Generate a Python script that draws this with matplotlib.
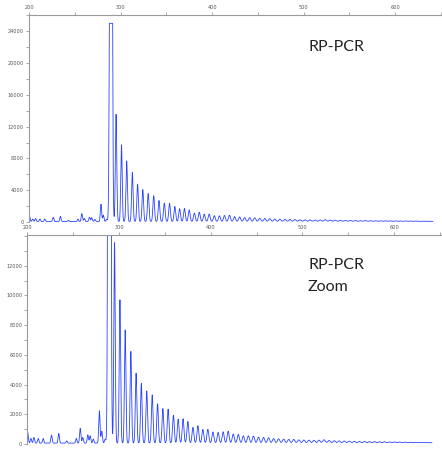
import numpy as np
import matplotlib
matplotlib.use("Agg")
import matplotlib.pyplot as plt
from matplotlib.ticker import MultipleLocator

# peak positions (size units) and heights (RFU)
small_pos = [200.4, 204.0, 207.2, 211.9, 217.3, 226.4, 234.3, 243.0, 253.4,
             257.7, 260.5, 266.0, 268.5, 272.0, 278.6, 281.2, 284.8]
small_h = [720, 310, 380, 310, 310, 540, 650, 150, 310,
           990, 380, 560, 490, 270, 2180, 800, 270]

repeat_pos = [289.5, 295.1, 301.0, 306.7, 312.9, 318.6, 324.3, 330.2, 336.2,
              342.0, 347.8, 353.5, 359.3, 364.5, 369.8, 375.0, 380.6, 386.0,
              391.4, 396.8, 402.4, 408.0, 413.5, 419.0, 424.5, 430.0, 435.5,
              441.0, 446.5, 452.0, 457.5, 463.0, 468.5, 474.0, 479.5, 485.0,
              490.5, 496.0, 501.5, 507.0, 512.5, 518.0, 523.5, 529.0, 534.5,
              540.0, 545.5, 551.0, 556.5, 562.0, 567.5, 573.0, 578.5, 584.0,
              589.5, 595.0, 600.5, 606.0, 611.5, 617.0, 622.5, 628.0, 633.5,
              639.0]
repeat_h = [150000, 13500, 9650, 7630, 6170, 4710, 4020, 3520, 3250,
            2650, 2330, 2290, 1890, 1620, 1640, 1460, 1060, 1170,
            920, 930, 740, 720, 760, 800, 610, 580, 490,
            490, 470, 400, 380, 360, 310, 290, 270, 250,
            250, 220, 210, 200, 190, 200, 230, 180, 160,
            150, 140, 130, 120, 110, 110, 100, 100, 90,
            90, 80, 80, 70, 70, 60, 60, 50, 50,
            40]

baseline = 60
saturation = 25000
trace_start, trace_end = 200, 641

x_ticks = [200, 300, 400, 500, 600]
top_yticks = [0, 4000, 8000, 12000, 16000, 20000, 24000]
zoom_yticks = [0, 2000, 4000, 6000, 8000, 10000, 12000]

LINE = '#2a44ff'
GREY = '#9a9a9a'
LABEL = '#555555'


def build_trace():
    x = np.linspace(trace_start, trace_end, 6000)
    y = np.full_like(x, baseline, dtype=float)
    for p, h in zip(small_pos, small_h):
        y += h * np.exp(-(x - p) ** 2 / (2 * 0.7 ** 2))
    for i, (p, h) in enumerate(zip(repeat_pos, repeat_h)):
        # peaks broaden along the run
        s = 1.0 if i == 0 else 0.75 + 0.9 * (p - 290) / 350
        y += h * np.exp(-(x - p) ** 2 / (2 * s ** 2))
    return x, np.minimum(y, saturation)


def style_axis(ax, yticks):
    for side in ['right', 'bottom']:
        ax.spines[side].set_visible(False)
    for side in ['left', 'top']:
        ax.spines[side].set_color(GREY)
        ax.spines[side].set_linewidth(0.8)
    ax.set_xticks(x_ticks)
    ax.xaxis.set_minor_locator(MultipleLocator(50))
    ax.set_yticks(yticks)
    ax.yaxis.set_minor_locator(MultipleLocator(yticks[1] / 2))
    ax.tick_params(axis='x', which='both', top=True, bottom=False,
                   labeltop=True, labelbottom=False, direction='out',
                   length=2, width=0.6, color=GREY, labelsize=3.6,
                   labelcolor=LABEL, pad=1.5)
    ax.tick_params(axis='y', which='both', direction='out', length=2.2,
                   width=0.6, color=GREY, labelsize=3.6, labelcolor=LABEL,
                   pad=1.5)
    ax.patch.set_alpha(0)


x, y = build_trace()

fig = plt.figure(figsize=(4.42, 4.51), dpi=100)
W, H = 442, 451

ax1 = fig.add_axes([29 / W, 1 - 222 / H, 412 / W, 207 / H])
ax1.plot(x, y, color=LINE, lw=0.6)
ax1.set_xlim(200, 650)
ax1.set_ylim(0, 26050)
style_axis(ax1, top_yticks)

ax2 = fig.add_axes([27.3 / W, 1 - 444 / H, 413.7 / W, 209 / H])
ax2.plot(x, y, color=LINE, lw=0.6)
ax2.set_xlim(200, 651)
ax2.set_ylim(0, 14070)
style_axis(ax2, zoom_yticks)

font = dict(family=['Lato', 'DejaVu Sans'], fontsize=11.5, color='#222222',
            va='baseline', ha='left')
fig.text(308 / W, 1 - 50.7 / H, 'RP-PCR', **font)
fig.text(308 / W, 1 - 269 / H, 'RP-PCR', **font)
fig.text(308 / W, 1 - 290.7 / H, 'Zoom', **font)

fig.savefig('out.png', dpi=100)
